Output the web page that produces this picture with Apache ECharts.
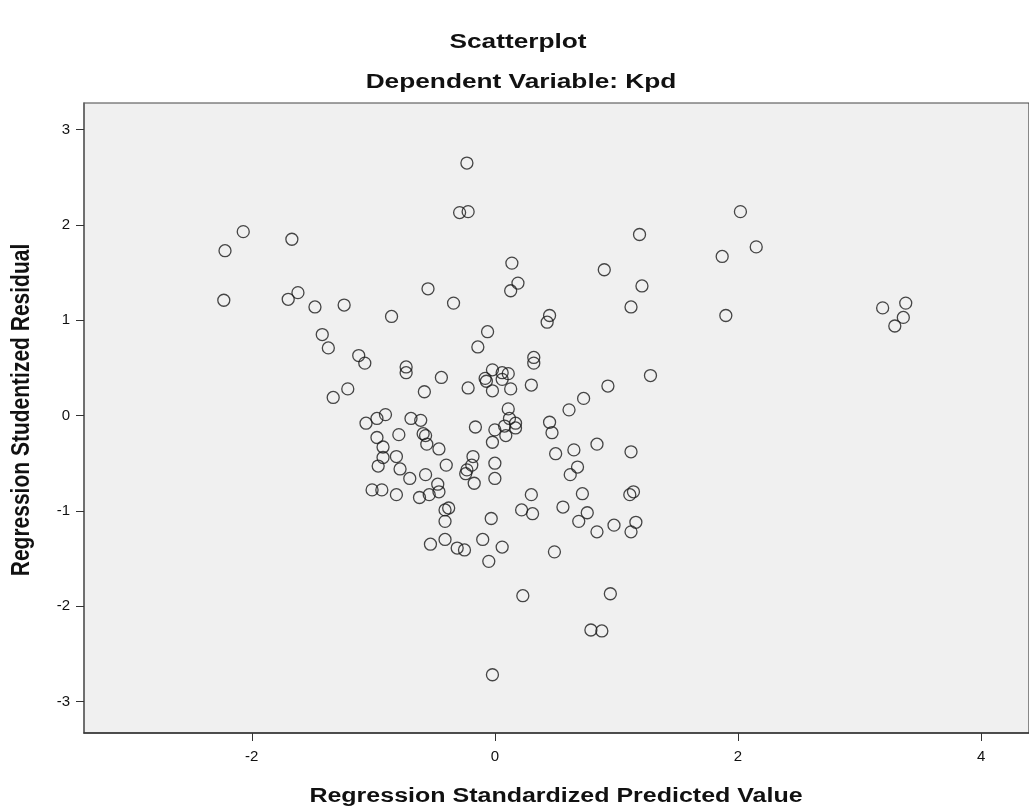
<!DOCTYPE html>
<html><head><meta charset="utf-8">
<script src="https://cdn.jsdelivr.net/npm/echarts@6/dist/echarts.min.js"></script>
<style>html,body{margin:0;padding:0;background:#fff}#c{width:1029px;height:811px}</style>
</head><body><div id="c"></div>
<script>
const chartTitle = 'Scatterplot';
const chartSubtitle = 'Dependent Variable: Kpd';
const xTitle = 'Regression Standardized Predicted Value';
const yTitle = 'Regression Studentized Residual';
const xTicks = [-2, 0, 2, 4];
const yTicks = [-3, -2, -1, 0, 1, 2, 3];

const predicted = [
 -2.07,-2.22,-1.67,-2.23,-1.70,-1.62,-1.48,-1.24,-0.85,-1.42,-1.37,-1.12,-1.07,-1.21,-1.33,-0.90,-0.97,-1.06,
 -0.23,-0.29,-0.22,1.19,0.14,0.90,1.21,0.19,0.13,-0.55,-0.34,1.12,0.45,0.43,-0.06,-0.14,0.32,0.32,-0.73,-0.73,
 -0.44,1.28,-0.02,0.06,0.11,0.06,-0.08,-0.07,-0.58,-0.22,-0.02,0.13,0.30,0.93,0.73,0.61,0.11,
 2.02,2.15,1.87,1.90,3.19,3.38,3.36,3.29,
 -0.69,-0.61,-0.16,0.00,0.08,0.12,0.17,0.17,0.09,-0.02,-0.79,-0.97,-0.92,-0.92,-0.81,-0.96,-0.78,-0.70,
 -0.59,-0.57,-0.56,-0.46,-0.40,-0.57,-0.18,-0.19,-0.23,-0.24,-0.17,0.00,0.00,-1.01,-0.93,-0.81,
 -0.47,-0.46,-0.54,-0.62,-0.41,-0.38,-0.41,-0.03,-0.53,-0.41,-0.31,-0.25,-0.10,0.06,-0.05,
 0.45,0.47,0.50,0.65,0.84,1.12,0.68,0.62,0.30,0.22,0.31,0.56,0.72,0.76,0.69,0.84,0.98,1.14,1.11,1.16,1.12,
 0.49,0.23,0.95,0.79,0.88,-0.02
];
const residual = [
 1.93,1.73,1.85,1.21,1.22,1.29,1.14,1.16,1.04,0.85,0.71,0.63,0.55,0.28,0.19,0.01,-0.03,-0.08,
 2.65,2.13,2.14,1.90,1.60,1.53,1.36,1.39,1.31,1.33,1.18,1.14,1.05,0.98,0.88,0.72,0.61,0.55,0.51,0.45,
 0.40,0.42,0.48,0.45,0.44,0.38,0.39,0.36,0.25,0.29,0.26,0.28,0.32,0.31,0.18,0.06,0.07,
 2.14,1.77,1.67,1.05,1.13,1.18,1.03,0.94,
 -0.03,-0.05,-0.12,-0.15,-0.11,-0.03,-0.08,-0.13,-0.21,-0.28,-0.20,-0.23,-0.33,-0.44,-0.43,-0.53,-0.56,-0.66,
 -0.19,-0.21,-0.30,-0.35,-0.52,-0.62,-0.43,-0.52,-0.57,-0.61,-0.71,-0.50,-0.66,-0.78,-0.78,-0.83,
 -0.72,-0.80,-0.83,-0.86,-0.99,-0.97,-1.11,-1.08,-1.35,-1.30,-1.39,-1.41,-1.30,-1.38,-1.53,
 -0.07,-0.18,-0.40,-0.36,-0.30,-0.38,-0.54,-0.62,-0.83,-0.99,-1.03,-0.96,-0.82,-1.02,-1.11,-1.22,-1.15,-0.80,-0.83,-1.12,-1.22,
 -1.43,-1.89,-1.87,-2.25,-2.26,-2.72
];

const points = predicted.map((x, i) => [x, residual[i]]);
const chart = echarts.init(document.getElementById('c'), null, {renderer: 'canvas'});
const font = '"Liberation Sans", Arial, sans-serif';
const stretch = 1.25;
function label(text, x, y, size, rot) {
  const el = {
    type: 'text', x: x, y: y, silent: true,
    style: {text: text, fontFamily: font, fontSize: size, fontWeight: 'bold', fill: '#111',
            align: 'center', verticalAlign: 'middle', textAlign: 'center', textVerticalAlign: 'middle'}
  };
  if (rot) { el.rotation = Math.PI / 2; el.scaleY = stretch; } else { el.scaleX = stretch; }
  return el;
}
chart.setOption({
  backgroundColor: '#ffffff',
  animation: false,
  graphic: [
    label(chartTitle, 518, 42, 21, false),
    label(chartSubtitle, 521, 82, 21, false),
    label(xTitle, 556, 796, 20, false),
    label(yTitle, 22, 410, 21, true)
  ],
  grid: {left: 84, right: -5, top: 103, bottom: 78, show: true,
         backgroundColor: '#f0f0f0', borderColor: '#444', borderWidth: 1.2},
  xAxis: {
    type: 'value', min: -3.38, max: 4.394,
    axisLine: {show: true, onZero: false, lineStyle: {color: '#333', width: 1.5}},
    axisTick: {show: true, length: 8, customValues: xTicks, lineStyle: {color: '#333'}},
    axisLabel: {customValues: xTicks, margin: 16, fontFamily: font, fontSize: 15, color: '#111'},
    splitLine: {show: false}
  },
  yAxis: {
    type: 'value', min: -3.331, max: 3.28,
    axisLine: {show: true, onZero: false, lineStyle: {color: '#666', width: 1.5}},
    axisTick: {show: true, length: 8, customValues: yTicks, lineStyle: {color: '#333'}},
    axisLabel: {customValues: yTicks, margin: 14, fontFamily: font, fontSize: 15, color: '#111'},
    splitLine: {show: false}
  },
  series: [{
    type: 'scatter', data: points, symbol: 'circle', symbolSize: 12,
    itemStyle: {color: 'rgba(0,0,0,0)', borderColor: '#1a1a1a', borderWidth: 1.3}
  }]
});
</script></body></html>
